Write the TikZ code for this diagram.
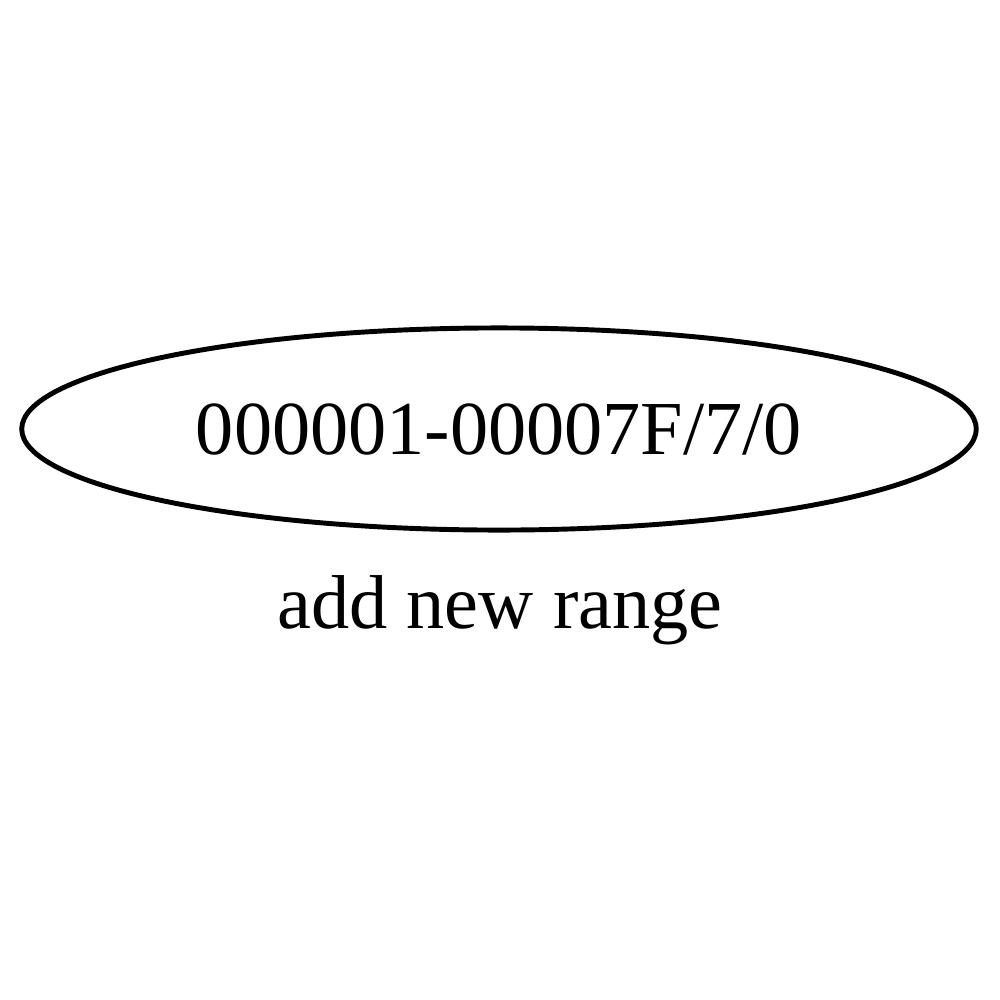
\documentclass[tikz,border=0pt]{standalone}
\usepackage{fontspec}
\setmainfont{Liberation Serif}
\usetikzlibrary{shapes.geometric}

\tikzset{
  rangenode/.style={ellipse, draw, line width=1.4pt, inner sep=0pt,
    minimum width=9.54cm, minimum height=2.02cm},
  caption/.style={anchor=base, inner sep=0pt}
}

\begin{document}
\begin{tikzpicture}[x=0.01cm, y=-0.01cm, font=\fontsize{21.7}{26}\selectfont]
  \useasboundingbox (0,0) rectangle (1000,1000);
  \node[rangenode] (range) at (499,429) {000001-00007F/7/0};
  \node[caption] (note) at (500,628) {add new range};
\end{tikzpicture}
\end{document}
